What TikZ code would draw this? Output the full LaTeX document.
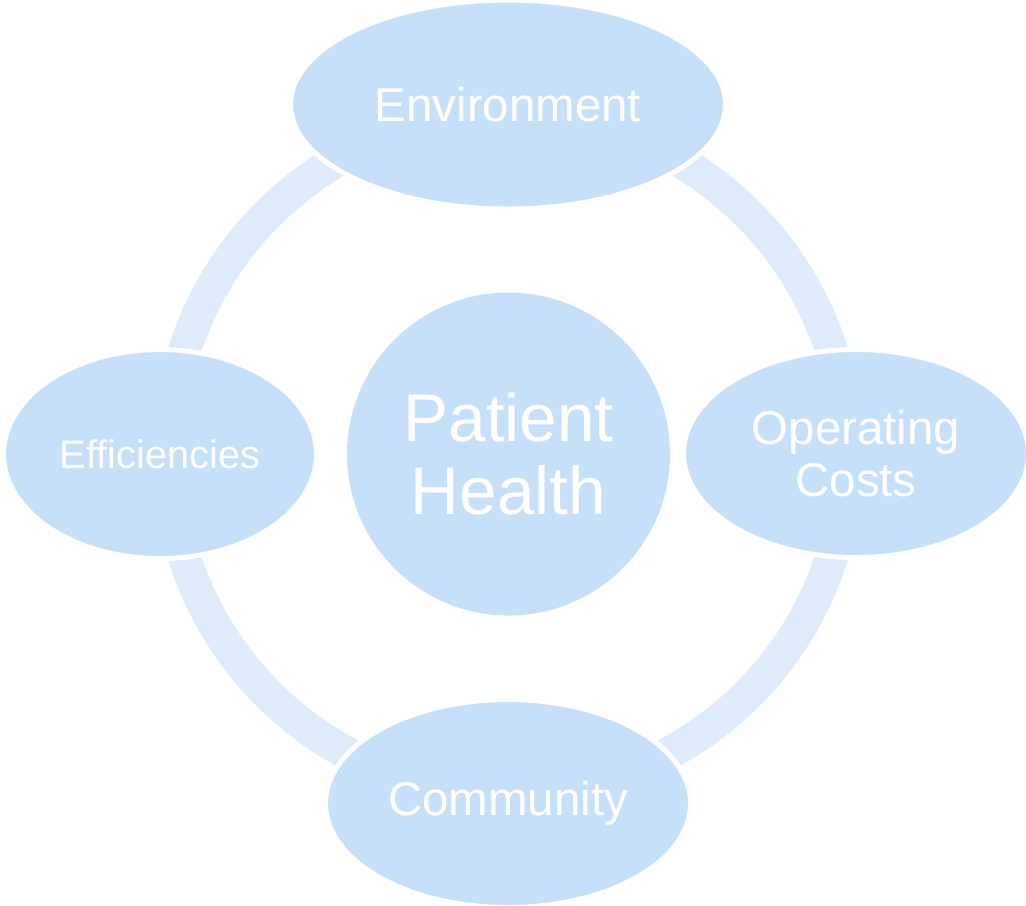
\documentclass[tikz,border=0pt]{standalone}
\usepackage{fontspec}
\setmainfont{Liberation Sans}
\usetikzlibrary{shapes.geometric}
\definecolor{bleuforme}{HTML}{C7E0F9}
\definecolor{bleuanneau}{HTML}{DEEBFA}

\begin{document}
\begin{tikzpicture}[
    bulle/.style={ellipse, fill=bleuforme, draw=white, line width=0.05cm, inner sep=0pt, text=white, align=center},
    centre/.style={circle, fill=bleuforme, inner sep=0pt, text=white, align=center}]
    \useasboundingbox (0,0) rectangle (10.26,-9.05);

    % Anneau
    \draw[bleuanneau, line width=0.33cm] (5.08,-4.54) circle (3.395);

    % Centre
    \node[centre, minimum size=3.23cm, font=\fontsize{19.2}{20.8}\selectfont] (patient) at (5.085,-4.54) {Patient\\Health};

    % Bulles
    \node[bulle, minimum width=4.35cm, minimum height=2.09cm, font=\fontsize{13.5}{14.8}\selectfont] (environment) at (5.08,-1.045) {Environment};
    \node[bulle, minimum width=3.45cm, minimum height=2.08cm, font=\fontsize{13.5}{14.8}\selectfont] (costs) at (8.56,-4.535) {Operating\\Costs};
    \node[bulle, minimum width=3.65cm, minimum height=2.08cm, font=\fontsize{13.5}{14.8}\selectfont] (community) at (5.08,-8.035) {Community};
    \node[bulle, minimum width=3.13cm, minimum height=2.09cm, font=\fontsize{11.3}{12.4}\selectfont] (efficiencies) at (1.60,-4.54) {Efficiencies};
\end{tikzpicture}
\end{document}
